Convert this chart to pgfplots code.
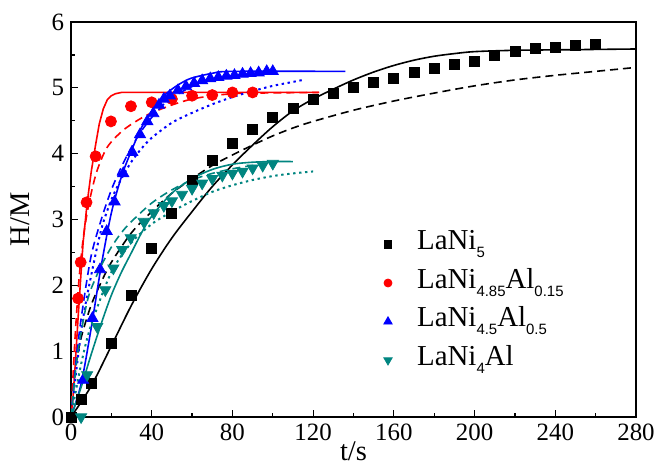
\documentclass[border=0pt]{standalone}
\usepackage{fontspec}
\setmainfont{Liberation Serif}
\setsansfont{Liberation Sans}
\usepackage{pgfplots}
\pgfplotsset{compat=1.18}
\definecolor{myteal}{RGB}{0,133,128}
\newcommand{\sub}[1]{\raisebox{-4bp}{\fontsize{7.5}{8}\sffamily #1}}

\begin{document}
\begin{tikzpicture}
\begin{axis}[
  scale only axis, width=282.5bp, height=197.5bp,
  xmin=0, xmax=280, ymin=0, ymax=6,
  xtick={0,40,...,280}, minor x tick num=1,
  ytick={0,...,6}, minor y tick num=1,
  xtick pos=bottom, ytick pos=left, tick align=inside,
  major tick length=3.5bp, minor tick length=2bp,
  axis line style={line width=0.8bp},
  every tick/.style={line width=0.6bp, black},
  tick label style={font=\rmfamily\fontsize{12.5}{14}\selectfont},
  /pgf/number format/assume math mode=true,
  xlabel={t/s}, ylabel={H/M},
  label style={font=\rmfamily\fontsize{14.3}{16}\selectfont},
  xlabel style={at={(axis description cs:0.5,-0.109)}, anchor=base, inner sep=0pt},
  ylabel style={at={(axis description cs:-0.09,0.5)}, anchor=center},
  legend style={draw=none, fill=none, inner sep=0pt, at={(0.553,0.481)}, anchor=north west,
    font=\rmfamily\fontsize{14.5}{16}\selectfont, row sep=2.3bp, column sep=10.5bp,
    nodes={inner sep=2bp, text height=9bp, text depth=4bp}},
  legend cell align=left,
]
\coordinate (sw) at (rel axis cs:0,0);
\coordinate (ne) at (rel axis cs:1,1);

% LaNi5 fits
\addplot[black, line width=0.8bp, smooth, forget plot] coordinates {
  (0,0)(10,0.47)(20,1.08)(30,1.70)(40,2.25)(50,2.72)(60,3.12)(70,3.50)
  (80,3.83)(90,4.13)(100,4.41)(110,4.65)(120,4.83)(130,4.98)(140,5.12)
  (150,5.24)(160,5.34)(170,5.42)(180,5.48)(190,5.52)(200,5.55)(220,5.57)
  (250,5.58)(280,5.59)};
\addplot[black, line width=0.8bp, smooth, dash pattern=on 4bp off 2.5bp, forget plot] coordinates {
  (0,0)(2,0.7)(5,1.2)(10,1.7)(15,2.05)(20,2.35)(30,2.8)(40,3.12)(50,3.4)
  (60,3.62)(70,3.82)(80,3.98)(90,4.13)(100,4.27)(110,4.39)(120,4.49)
  (140,4.66)(160,4.8)(180,4.92)(200,5.03)(220,5.12)(240,5.19)(260,5.25)(280,5.31)};

% LaNi4.85Al0.15 fits
\addplot[red, line width=0.8bp, forget plot] coordinates {
  (0,0)(1,0.3)(2,0.75)(3.5,1.5)(5,2.2)(6,2.65)(8,3.25)(10,3.72)(12,4.1)
  (14,4.45)(16,4.68)(18,4.82)(20,4.88)(22,4.91)(25,4.93)(123,4.93)};
\addplot[red, line width=0.8bp, smooth, dash pattern=on 4bp off 2.5bp, forget plot] coordinates {
  (0,0)(2,1.2)(4,2.1)(6,2.7)(8,3.1)(10,3.4)(13,3.75)(18,4.1)(26,4.36)
  (36,4.56)(44,4.67)(52,4.76)(60,4.83)(70,4.88)(80,4.91)(90,4.92)(123,4.93)};

% LaNi4.5Al0.5 fits
\addplot[blue, line width=0.8bp, smooth, forget plot] coordinates {
  (0,0)(5,0.5)(10,1.35)(15,2.3)(20,3.1)(25,3.65)(30,4.05)(35,4.4)(40,4.65)
  (45,4.85)(50,4.98)(55,5.08)(60,5.15)(70,5.22)(80,5.25)(136,5.25)};
\addplot[blue, line width=0.8bp, smooth, dash pattern=on 4bp off 2.5bp, forget plot] coordinates {
  (0,0)(3,1.0)(6,1.7)(10,2.45)(15,3.0)(20,3.45)(25,3.8)(30,4.1)(35,4.35)
  (40,4.55)(45,4.72)(50,4.85)(60,5.02)(70,5.12)(80,5.18)(90,5.22)(100,5.24)};
\addplot[blue, line width=1bp, smooth, dash pattern=on 1.2bp off 1.8bp, forget plot] coordinates {
  (0,0)(3,0.8)(6,1.5)(10,2.15)(15,2.85)(20,3.3)(25,3.62)(30,3.88)(35,4.08)
  (40,4.24)(50,4.47)(60,4.62)(70,4.75)(80,4.86)(90,4.95)(100,5.03)(110,5.09)(115,5.12)};

% LaNi4Al fits
\addplot[myteal, line width=0.8bp, smooth, forget plot] coordinates {
  (0,0)(5,0.45)(10,0.95)(15,1.42)(20,1.85)(25,2.2)(30,2.5)(35,2.8)(40,3.05)
  (50,3.4)(60,3.62)(70,3.76)(80,3.84)(90,3.87)(100,3.88)(110,3.88)};
\addplot[myteal, line width=0.8bp, smooth, dash pattern=on 4bp off 2.5bp, forget plot] coordinates {
  (0,0)(3,0.9)(6,1.45)(8,1.75)(10,1.95)(15,2.3)(20,2.58)(25,2.8)(30,2.97)
  (40,3.25)(50,3.45)(60,3.6)(70,3.7)(80,3.77)(90,3.82)(100,3.85)};
\addplot[myteal, line width=1bp, smooth, dash pattern=on 1.2bp off 1.8bp, forget plot] coordinates {
  (0,0)(5,0.8)(10,1.4)(20,2.2)(30,2.65)(40,2.93)(50,3.12)(60,3.28)(70,3.42)
  (80,3.52)(90,3.6)(100,3.66)(110,3.7)(120,3.73)};

% measured data
\addplot[only marks, mark=square*, black, mark size=2.5bp,
  legend image post style={mark size=1.8bp}] coordinates {
  (0,0)(5,0.27)(10,0.51)(20,1.12)(30,1.84)(40,2.56)(50,3.10)(60,3.60)(70,3.90)
  (80,4.16)(90,4.37)(100,4.55)(110,4.68)(120,4.82)(130,4.91)(140,5.01)
  (150,5.09)(160,5.14)(170,5.23)(180,5.30)(190,5.35)(200,5.40)(210,5.49)
  (220,5.55)(230,5.60)(240,5.62)(250,5.65)(260,5.66)};
\addlegendentry{LaNi\sub{5}}
\addplot[only marks, mark=*, red, mark size=2.75bp,
  legend image post style={mark size=2bp}] coordinates {
  (3.5,1.80)(4.8,2.35)(7.7,3.26)(12.2,3.96)(19.8,4.49)(29.7,4.72)(40,4.78)
  (50,4.83)(60,4.88)(70,4.89)(80,4.93)(90,4.93)};
\addlegendentry{LaNi\sub{4.85}Al\sub{0.15}}
\addplot[only marks, mark=triangle*, blue, mark size=3.2bp,
  legend image post style={mark size=2.4bp}] coordinates {
  (6,0.56)(10.6,1.50)(14.4,2.24)(17.7,2.82)(21.6,3.27)(25.9,3.70)(30.4,4.02)
  (34.2,4.29)(37.8,4.49)(40.8,4.61)(43.6,4.74)(46,4.83)(49,4.88)(53,4.96)
  (57,5.02)(61,5.07)(65,5.11)(69,5.14)(73,5.16)(77,5.18)(81,5.19)(85,5.21)
  (89,5.22)(93,5.23)(97,5.25)(100,5.25)};
\addlegendentry{LaNi\sub{4.5}Al\sub{0.5}}
\addplot[only marks, mark=triangle*, myteal, mark size=3.2bp, mark options={rotate=180},
  legend image post style={mark size=2.4bp}] coordinates {
  (5,0)(8,0.64)(13,1.37)(17,1.93)(21,2.26)(25.4,2.54)(29.6,2.72)(36,2.97)
  (41,3.10)(46,3.21)(50,3.28)(55,3.38)(60,3.47)(65,3.55)(70,3.62)(75,3.67)
  (80,3.70)(85,3.73)(90,3.78)(95,3.82)(100,3.85)};
\addlegendentry{LaNi\sub{4}Al}
\end{axis}
\pgfresetboundingbox
\path[use as bounding box] ([shift={(-35.5bp,-24.5bp)}]sw) rectangle ([shift={(9bp,11bp)}]ne);
\end{tikzpicture}
\end{document}
